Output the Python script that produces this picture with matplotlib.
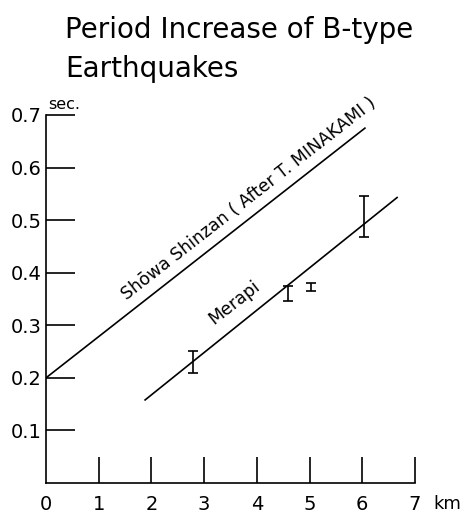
import matplotlib.pyplot as plt

# Readings from the figure (distance in km, period in sec)
showa_x = [0.0, 6.05]
showa_y = [0.200, 0.675]

merapi_x = [1.88, 6.66]
merapi_y = [0.158, 0.543]

# Merapi observations: ranges of period
obs_x = [2.79, 4.59, 5.03, 6.03]
obs_lo = [0.209, 0.346, 0.365, 0.468]
obs_hi = [0.251, 0.375, 0.380, 0.546]

x_ticks = [0, 1, 2, 3, 4, 5, 6, 7]
y_ticks = [0.1, 0.2, 0.3, 0.4, 0.5, 0.6, 0.7]

plt.rcParams['font.family'] = ['DejaVu Sans']

fig = plt.figure(figsize=(4.64, 5.18), dpi=100)
ax = fig.add_axes([46 / 464, 1 - 483 / 518, 369 / 464, 368 / 518])

lw = 1.2
ax.plot(showa_x, showa_y, color='black', lw=lw)
ax.plot(merapi_x, merapi_y, color='black', lw=lw)

mid = [(lo + hi) / 2 for lo, hi in zip(obs_lo, obs_hi)]
err = [(hi - lo) / 2 for lo, hi in zip(obs_lo, obs_hi)]
ax.errorbar(obs_x, mid, yerr=err, fmt='none', ecolor='black',
            elinewidth=lw, capsize=3.5, capthick=lw)

ax.text(3.85, 0.540, 'Shōwa Shinzan ( After T. MINAKAMI )', rotation=38,
        rotation_mode='anchor', ha='center', va='center', fontsize=12.5,
        clip_on=False)
ax.text(3.57, 0.344, 'Merapi', rotation=38, rotation_mode='anchor',
        ha='center', va='center', fontsize=12.5, clip_on=False)

ax.set_xlim(0, 7)
ax.set_ylim(0, 0.7)
ax.set_xticks(x_ticks)
ax.set_xticklabels([str(t) for t in x_ticks])
ax.set_yticks(y_ticks)
ax.set_yticklabels([f'{t:.1f}' for t in y_ticks])
ax.tick_params(axis='x', direction='in', length=19, width=lw, labelsize=14, pad=9)
ax.tick_params(axis='y', direction='in', length=21, width=lw, labelsize=14, pad=3)
ax.xaxis.get_major_ticks()[0].tick1line.set_visible(False)

ax.spines['top'].set_visible(False)
ax.spines['right'].set_visible(False)
ax.spines['left'].set_linewidth(lw)
ax.spines['bottom'].set_linewidth(lw)
ax.patch.set_visible(False)

ax.text(0.05, 0.705, 'sec.', fontsize=11.5, ha='left', va='bottom', clip_on=False)
fig.text(433 / 464, 1 - 504 / 518, 'km', fontsize=13, ha='left', va='center')

fig.text(65 / 464, 1 - 38 / 518, 'Period Increase of B-type', fontsize=20,
         ha='left', va='baseline')
fig.text(65 / 464, 1 - 77 / 518, 'Earthquakes', fontsize=20,
         ha='left', va='baseline')

fig.savefig('out.png', dpi=100, facecolor='white')
